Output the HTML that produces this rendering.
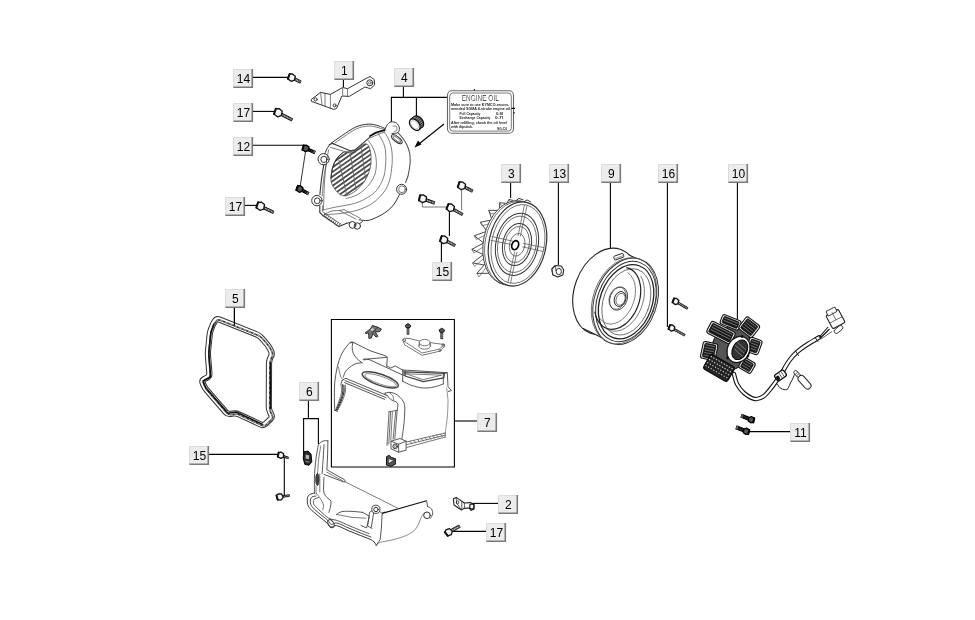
<!DOCTYPE html>
<html><head><meta charset="utf-8">
<style>
html,body{margin:0;padding:0;background:#fff;}
body{width:975px;height:620px;overflow:hidden;font-family:"Liberation Sans",sans-serif;}
svg{display:block;filter:blur(0.3px)}
.lb text{font-family:"Liberation Sans",sans-serif;font-size:12px;fill:#000;text-anchor:middle}
.ld{stroke:#000;stroke-width:1.1;fill:none}
.lg{stroke:#777;stroke-width:1;fill:none}
.p{stroke:#333;stroke-width:1;fill:none;stroke-linejoin:round;stroke-linecap:round}
.pt{stroke:#505050;stroke-width:0.75;fill:none;stroke-linejoin:round;stroke-linecap:round}
.pk{stroke:#111;stroke-width:1.2;fill:none;stroke-linejoin:round;stroke-linecap:round}
</style></head><body>
<svg width="975" height="620" viewBox="0 0 975 620">
<defs>
<g id="L"><rect x="0" y="0" width="20" height="19" fill="#ececec"/><path stroke="#dcdcdc" stroke-width="1" fill="none" d="M0.5 19V0.5H20"/><path stroke="#7a7a7a" stroke-width="1.6" fill="none" d="M0.5 18.3H19.3V0"/></g>
</defs>
<rect width="975" height="620" fill="#fff"/>

<!-- LEADERS -->
<g class="ld" id="leaders">
<path d="M253 77.4H289"/>
<path d="M253 111.4H274"/>
<path d="M253 145.2H303"/>
<path d="M245 205.4H256"/>
<path d="M343.4 80V87"/>
<path d="M403.4 87V97.4M391.4 122V97.4H447.4M416.4 97.4V117"/>
<path d="M474.4 89V92"/>
<path d="M444 124L417 145.5"/>
<path d="M510.6 183V198"/>
<path d="M558.4 183V265"/>
<path d="M610.4 183V249.4"/>
<path d="M667.4 183V327"/>
<path d="M737.4 183V319"/>
<path d="M441.4 242V262"/>
<path d="M449.4 211V236"/>
<path d="M234.4 308V325"/>
<path d="M308.4 401V418.6M303.6 454V418.6H318.4V444"/>
<path d="M454.4 421H477"/>
<path d="M209 454.4H278"/>
<path d="M284.3 456V496"/>
<path d="M748 431.6H790"/>
<path d="M473 503.4H498"/>
<path d="M452.4 531.4H486"/>
<path d="M331.4 319.5H454.4V467H331.4Z"/>
</g>
<path d="M414.5 147.5L421.5 144.5L418 140.5Z" fill="#000"/>
<g class="lg">
<path d="M422.4 203V207H447"/>
<path d="M461.6 189V210"/>
</g>
<path class="ld" style="stroke-width:0.8" d="M305.6 151L300.4 185"/>

<!-- PARTS -->
<g id="parts">
<g transform="translate(291,77.2) rotate(26.8)"><rect x="1.8" y="-1.2" width="8.8" height="2.4" fill="#ddd" stroke="#111" stroke-width="0.9"/><path d="M4.6 -1.2L5.2 1.2M6.3 -1.2L6.9 1.2M8.0 -1.2L8.6 1.2M9.7 -1.2L10.3 1.2" stroke="#111" stroke-width="0.6" fill="none"/><rect x="9.0" y="-1.2" width="1.6" height="2.4" fill="#666"/><g transform="translate(0.9,0)"><path d="M-3.6 -2.2L-1.1 -3.6L2.5 -2.9L3.6 1.1L1.1 3.6L-2.9 2.9Z" fill="#f4f4f4" stroke="#111" stroke-width="1.3" stroke-linejoin="round"/><path d="M-3.6 -2.2L-2.9 2.9" stroke="#111" stroke-width="2" stroke-linecap="round"/></g></g>
<g transform="translate(277.5,112.3) rotate(27.3)"><rect x="2.0" y="-1.2" width="14.3" height="2.4" fill="#ddd" stroke="#111" stroke-width="0.9"/><path d="M5.0 -1.2L5.6 1.2M6.7 -1.2L7.3 1.2M8.4 -1.2L9.0 1.2M10.1 -1.2L10.7 1.2M11.8 -1.2L12.4 1.2M13.5 -1.2L14.1 1.2M15.2 -1.2L15.8 1.2" stroke="#111" stroke-width="0.6" fill="none"/><rect x="14.7" y="-1.2" width="1.6" height="2.4" fill="#666"/><g transform="translate(0.9,0)"><path d="M-4.0 -2.4L-1.2 -4.0L2.8 -3.2L4.0 1.2L1.2 4.0L-3.2 3.2Z" fill="#f4f4f4" stroke="#111" stroke-width="1.3" stroke-linejoin="round"/><path d="M-4.0 -2.4L-3.2 3.2" stroke="#111" stroke-width="2" stroke-linecap="round"/></g></g>
<g transform="translate(305,148) rotate(24.2)"><rect x="1.6" y="-1.3" width="9.1" height="2.6" fill="#333" stroke="#000" stroke-width="0.9"/><path d="M4.2 -1.3L4.8 1.3M5.9 -1.3L6.5 1.3M7.6 -1.3L8.2 1.3M9.3 -1.3L9.9 1.3" stroke="#000" stroke-width="0.6" fill="none"/><rect x="9.1" y="-1.3" width="1.6" height="2.6" fill="#666"/><g transform="translate(0.9,0)"><path d="M-3.2 -1.9L-1.0 -3.2L2.2 -2.6L3.2 1.0L1.0 3.2L-2.6 2.6Z" fill="#555" stroke="#000" stroke-width="1.3" stroke-linejoin="round"/><path d="M-3.2 -1.9L-2.6 2.6" stroke="#000" stroke-width="2" stroke-linecap="round"/></g></g>
<g transform="translate(299,188.6) rotate(28.0)"><rect x="1.6" y="-1.3" width="9.0" height="2.6" fill="#333" stroke="#000" stroke-width="0.9"/><path d="M4.2 -1.3L4.8 1.3M5.9 -1.3L6.5 1.3M7.6 -1.3L8.2 1.3M9.3 -1.3L9.9 1.3" stroke="#000" stroke-width="0.6" fill="none"/><rect x="9.0" y="-1.3" width="1.6" height="2.6" fill="#666"/><g transform="translate(0.9,0)"><path d="M-3.2 -1.9L-1.0 -3.2L2.2 -2.6L3.2 1.0L1.0 3.2L-2.6 2.6Z" fill="#555" stroke="#000" stroke-width="1.3" stroke-linejoin="round"/><path d="M-3.2 -1.9L-2.6 2.6" stroke="#000" stroke-width="2" stroke-linecap="round"/></g></g>
<g transform="translate(259.8,205.8) rotate(25.9)"><rect x="2.0" y="-1.2" width="13.1" height="2.4" fill="#ddd" stroke="#111" stroke-width="0.9"/><path d="M5.0 -1.2L5.6 1.2M6.7 -1.2L7.3 1.2M8.4 -1.2L9.0 1.2M10.1 -1.2L10.7 1.2M11.8 -1.2L12.4 1.2M13.5 -1.2L14.1 1.2" stroke="#111" stroke-width="0.6" fill="none"/><rect x="13.5" y="-1.2" width="1.6" height="2.4" fill="#666"/><g transform="translate(0.9,0)"><path d="M-4.0 -2.4L-1.2 -4.0L2.8 -3.2L4.0 1.2L1.2 4.0L-3.2 3.2Z" fill="#f4f4f4" stroke="#111" stroke-width="1.3" stroke-linejoin="round"/><path d="M-4.0 -2.4L-3.2 3.2" stroke="#111" stroke-width="2" stroke-linecap="round"/></g></g>
<g transform="translate(422,198.4) rotate(20.4)"><rect x="1.9" y="-1.2" width="11.3" height="2.4" fill="#ddd" stroke="#111" stroke-width="0.9"/><path d="M4.8 -1.2L5.4 1.2M6.5 -1.2L7.1 1.2M8.2 -1.2L8.8 1.2M9.9 -1.2L10.5 1.2M11.6 -1.2L12.2 1.2" stroke="#111" stroke-width="0.6" fill="none"/><rect x="11.6" y="-1.2" width="1.6" height="2.4" fill="#666"/><g transform="translate(0.9,0)"><path d="M-3.8 -2.3L-1.1 -3.8L2.7 -3.0L3.8 1.1L1.1 3.8L-3.0 3.0Z" fill="#f4f4f4" stroke="#111" stroke-width="1.3" stroke-linejoin="round"/><path d="M-3.8 -2.3L-3.0 3.0" stroke="#111" stroke-width="2" stroke-linecap="round"/></g></g>
<g transform="translate(461,185.4) rotate(26.2)"><rect x="1.9" y="-1.2" width="10.8" height="2.4" fill="#ddd" stroke="#111" stroke-width="0.9"/><path d="M4.8 -1.2L5.4 1.2M6.5 -1.2L7.1 1.2M8.2 -1.2L8.8 1.2M9.9 -1.2L10.5 1.2M11.6 -1.2L12.2 1.2" stroke="#111" stroke-width="0.6" fill="none"/><rect x="11.1" y="-1.2" width="1.6" height="2.4" fill="#666"/><g transform="translate(0.9,0)"><path d="M-3.8 -2.3L-1.1 -3.8L2.7 -3.0L3.8 1.1L1.1 3.8L-3.0 3.0Z" fill="#f4f4f4" stroke="#111" stroke-width="1.3" stroke-linejoin="round"/><path d="M-3.8 -2.3L-3.0 3.0" stroke="#111" stroke-width="2" stroke-linecap="round"/></g></g>
<g transform="translate(449.8,207.4) rotate(29.1)"><rect x="1.9" y="-1.2" width="12.5" height="2.4" fill="#ddd" stroke="#111" stroke-width="0.9"/><path d="M4.8 -1.2L5.4 1.2M6.5 -1.2L7.1 1.2M8.2 -1.2L8.8 1.2M9.9 -1.2L10.5 1.2M11.6 -1.2L12.2 1.2M13.3 -1.2L13.9 1.2" stroke="#111" stroke-width="0.6" fill="none"/><rect x="12.8" y="-1.2" width="1.6" height="2.4" fill="#666"/><g transform="translate(0.9,0)"><path d="M-3.8 -2.3L-1.1 -3.8L2.7 -3.0L3.8 1.1L1.1 3.8L-3.0 3.0Z" fill="#f4f4f4" stroke="#111" stroke-width="1.3" stroke-linejoin="round"/><path d="M-3.8 -2.3L-3.0 3.0" stroke="#111" stroke-width="2" stroke-linecap="round"/></g></g>
<g transform="translate(443.2,239.4) rotate(27.3)"><rect x="1.9" y="-1.2" width="11.2" height="2.4" fill="#ddd" stroke="#111" stroke-width="0.9"/><path d="M4.8 -1.2L5.4 1.2M6.5 -1.2L7.1 1.2M8.2 -1.2L8.8 1.2M9.9 -1.2L10.5 1.2M11.6 -1.2L12.2 1.2" stroke="#111" stroke-width="0.6" fill="none"/><rect x="11.5" y="-1.2" width="1.6" height="2.4" fill="#666"/><g transform="translate(0.9,0)"><path d="M-3.8 -2.3L-1.1 -3.8L2.7 -3.0L3.8 1.1L1.1 3.8L-3.0 3.0Z" fill="#f4f4f4" stroke="#111" stroke-width="1.3" stroke-linejoin="round"/><path d="M-3.8 -2.3L-3.0 3.0" stroke="#111" stroke-width="2" stroke-linecap="round"/></g></g>
<g transform="translate(675,301) rotate(30.8)"><rect x="1.5" y="-0.9" width="12.9" height="1.8" fill="#ddd" stroke="#111" stroke-width="0.9"/><path d="M4.0 -0.9L4.6 0.9M5.7 -0.9L6.3 0.9M7.4 -0.9L8.0 0.9M9.1 -0.9L9.7 0.9M10.8 -0.9L11.4 0.9M12.5 -0.9L13.1 0.9" stroke="#111" stroke-width="0.6" fill="none"/><rect x="12.8" y="-0.9" width="1.6" height="1.8" fill="#666"/><g transform="translate(0.9,0)"><path d="M-3 -1.8L-0.9 -3L2.1 -2.4L3 0.9L0.9 3L-2.4 2.4Z" fill="#f4f4f4" stroke="#111" stroke-width="1.3" stroke-linejoin="round"/><path d="M-3 -1.8L-2.4 2.4" stroke="#111" stroke-width="2" stroke-linecap="round"/></g></g>
<g transform="translate(671,327.6) rotate(29.2)"><rect x="1.5" y="-0.9" width="14.1" height="1.8" fill="#ddd" stroke="#111" stroke-width="0.9"/><path d="M4.0 -0.9L4.6 0.9M5.7 -0.9L6.3 0.9M7.4 -0.9L8.0 0.9M9.1 -0.9L9.7 0.9M10.8 -0.9L11.4 0.9M12.5 -0.9L13.1 0.9M14.2 -0.9L14.8 0.9" stroke="#111" stroke-width="0.6" fill="none"/><rect x="14.0" y="-0.9" width="1.6" height="1.8" fill="#666"/><g transform="translate(0.9,0)"><path d="M-3 -1.8L-0.9 -3L2.1 -2.4L3 0.9L0.9 3L-2.4 2.4Z" fill="#f4f4f4" stroke="#111" stroke-width="1.3" stroke-linejoin="round"/><path d="M-3 -1.8L-2.4 2.4" stroke="#111" stroke-width="2" stroke-linecap="round"/></g></g>
<g transform="translate(752,420) rotate(-158.4)"><rect x="1.5" y="-1.6" width="9.9" height="3.2" fill="#333" stroke="#000" stroke-width="0.9"/><path d="M4.0 -1.6L4.6 1.6M5.7 -1.6L6.3 1.6M7.4 -1.6L8.0 1.6M9.1 -1.6L9.7 1.6" stroke="#000" stroke-width="0.6" fill="none"/><rect x="9.8" y="-1.6" width="1.6" height="3.2" fill="#666"/><g transform="translate(0.9,0)"><path d="M-3 -1.8L-0.9 -3L2.1 -2.4L3 0.9L0.9 3L-2.4 2.4Z" fill="#555" stroke="#000" stroke-width="1.3" stroke-linejoin="round"/><path d="M-3 -1.8L-2.4 2.4" stroke="#000" stroke-width="2" stroke-linecap="round"/></g></g>
<g transform="translate(747,431.6) rotate(-158.4)"><rect x="1.5" y="-1.6" width="9.9" height="3.2" fill="#333" stroke="#000" stroke-width="0.9"/><path d="M4.0 -1.6L4.6 1.6M5.7 -1.6L6.3 1.6M7.4 -1.6L8.0 1.6M9.1 -1.6L9.7 1.6" stroke="#000" stroke-width="0.6" fill="none"/><rect x="9.8" y="-1.6" width="1.6" height="3.2" fill="#666"/><g transform="translate(0.9,0)"><path d="M-3 -1.8L-0.9 -3L2.1 -2.4L3 0.9L0.9 3L-2.4 2.4Z" fill="#555" stroke="#000" stroke-width="1.3" stroke-linejoin="round"/><path d="M-3 -1.8L-2.4 2.4" stroke="#000" stroke-width="2" stroke-linecap="round"/></g></g>
<g transform="translate(448,532.6) rotate(-29.3)"><rect x="1.7" y="-1.2" width="11.4" height="2.4" fill="#ddd" stroke="#111" stroke-width="0.9"/><path d="M4.4 -1.2L5.0 1.2M6.1 -1.2L6.7 1.2M7.8 -1.2L8.4 1.2M9.5 -1.2L10.1 1.2M11.2 -1.2L11.8 1.2" stroke="#111" stroke-width="0.6" fill="none"/><rect x="11.5" y="-1.2" width="1.6" height="2.4" fill="#666"/><g transform="translate(0.9,0)"><path d="M-3.4 -2.0L-1.0 -3.4L2.4 -2.7L3.4 1.0L1.0 3.4L-2.7 2.7Z" fill="#f4f4f4" stroke="#111" stroke-width="1.3" stroke-linejoin="round"/><path d="M-3.4 -2.0L-2.7 2.7" stroke="#111" stroke-width="2" stroke-linecap="round"/></g></g>
<g transform="translate(280,455) rotate(19.7)"><rect x="1.5" y="-0.8" width="7.4" height="1.6" fill="#ddd" stroke="#111" stroke-width="0.9"/><path d="M4.0 -0.8L4.6 0.8M5.7 -0.8L6.3 0.8M7.4 -0.8L8.0 0.8" stroke="#111" stroke-width="0.6" fill="none"/><rect x="7.3" y="-0.8" width="1.6" height="1.6" fill="#666"/><g transform="translate(0.9,0)"><path d="M-3 -1.8L-0.9 -3L2.1 -2.4L3 0.9L0.9 3L-2.4 2.4Z" fill="#f4f4f4" stroke="#111" stroke-width="1.3" stroke-linejoin="round"/><path d="M-3 -1.8L-2.4 2.4" stroke="#111" stroke-width="2" stroke-linecap="round"/></g></g>
<g transform="translate(279,497) rotate(-8.2)"><rect x="1.6" y="-0.8" width="8.9" height="1.6" fill="#ddd" stroke="#111" stroke-width="0.9"/><path d="M4.2 -0.8L4.8 0.8M5.9 -0.8L6.5 0.8M7.6 -0.8L8.2 0.8M9.3 -0.8L9.9 0.8" stroke="#111" stroke-width="0.6" fill="none"/><rect x="8.9" y="-0.8" width="1.6" height="1.6" fill="#666"/><g transform="translate(0.9,0)"><path d="M-3.2 -1.9L-1.0 -3.2L2.2 -2.6L3.2 1.0L1.0 3.2L-2.6 2.6Z" fill="#f4f4f4" stroke="#111" stroke-width="1.3" stroke-linejoin="round"/><path d="M-3.2 -1.9L-2.6 2.6" stroke="#111" stroke-width="2" stroke-linecap="round"/></g></g>
<path class="p" d="M311.5 99.3L320.5 92.4L330.4 94.4L342.7 87.5L347.6 88.7L366.0 78.5L370.0 76.5L374.2 79.6L374.6 85.0L370.6 88.7L364.9 87.0L349.3 96.4L341.9 96.0L336.5 108.5L333.5 109.4L316.0 103.0L311.8 101.5Z" />
<path class="pt" d="M325 93.3V105.8M330.4 94.4V107.5M342.7 87.5V95M347.6 88.7V95.6M320.5 92.4L322 104.5" />
<circle class="p" cx="315.6" cy="99.4" r="1.6"/><circle class="p" cx="334.6" cy="105.4" r="1.5"/><circle class="p" cx="369.8" cy="82.8" r="3"/><circle class="pt" cx="369.8" cy="82.8" r="1.3"/>
<rect x="447.5" y="90.8" width="66" height="42.5" rx="4.5" fill="#fff" stroke="#666" stroke-width="1.1"/>
<rect x="449.7" y="93" width="61.6" height="38.1" rx="3.2" fill="none" stroke="#444" stroke-width="0.7"/>
<text x="480.3" y="101" text-anchor="middle" font-family="Liberation Sans, sans-serif" font-size="9.4" fill="#222" textLength="37" lengthAdjust="spacingAndGlyphs" style="font-weight:normal" stroke="#fff" stroke-width="0.15">ENGINE OIL</text>
<text x="451" y="105.6" font-family="Liberation Sans, sans-serif" font-size="4.2" font-weight="bold" fill="#222" textLength="58" lengthAdjust="spacingAndGlyphs">Make sure to use KYMCO-recom-</text>
<text x="451" y="110" font-family="Liberation Sans, sans-serif" font-size="4.2" font-weight="bold" fill="#222" textLength="60" lengthAdjust="spacingAndGlyphs">mended SGMA 4-stroke engine oil.</text>
<text x="459.5" y="115" font-family="Liberation Sans, sans-serif" font-size="4.2" font-weight="bold" fill="#222" textLength="21" lengthAdjust="spacingAndGlyphs">Full Capacity</text>
<text x="496" y="115" font-family="Liberation Sans, sans-serif" font-size="4.2" font-weight="bold" fill="#222" textLength="7" lengthAdjust="spacingAndGlyphs">0.8l</text>
<text x="459.5" y="119.2" font-family="Liberation Sans, sans-serif" font-size="4.2" font-weight="bold" fill="#222" textLength="31" lengthAdjust="spacingAndGlyphs">Exchange Capacity</text>
<text x="495" y="119.2" font-family="Liberation Sans, sans-serif" font-size="4.2" font-weight="bold" fill="#222" textLength="8" lengthAdjust="spacingAndGlyphs">0.7l</text>
<text x="451" y="124" font-family="Liberation Sans, sans-serif" font-size="4.2" font-weight="bold" fill="#222" textLength="56" lengthAdjust="spacingAndGlyphs">After refilling, check the oil level</text>
<text x="451" y="128.2" font-family="Liberation Sans, sans-serif" font-size="4.2" font-weight="bold" fill="#222" textLength="22" lengthAdjust="spacingAndGlyphs">with dipstick.</text>
<text x="497" y="129.6" font-family="Liberation Sans, sans-serif" font-size="4.2" font-weight="bold" fill="#222" textLength="10" lengthAdjust="spacingAndGlyphs">SG-C6</text>
<path class="ld" d="M511.5 108.4H515M514 113.5V112" />
<g transform="translate(414.8,124.6) rotate(50)"><ellipse cx="0" cy="-4.6" rx="6.6" ry="4.3" fill="#888" stroke="#111" stroke-width="1.2"/><rect x="-6.6" y="-4.6" width="13.2" height="4.6" fill="#aaa" stroke="none"/><path d="M-6.6 0V-4.6M6.6 0V-4.6" stroke="#111" stroke-width="1.2" fill="none"/><path d="M-4.5 -8V-3M-2.5 -8.6V-4M-0.5 -9V-4.4M1.5 -9V-4.4M3.5 -8.4V-4M5.2 -7.4V-3" stroke="#111" stroke-width="0.8"/><ellipse cx="0" cy="0" rx="6.6" ry="4.3" fill="#fff" stroke="#111" stroke-width="1.3"/><ellipse cx="0" cy="0.3" rx="4.8" ry="2.9" fill="none" stroke="#999" stroke-width="0.5"/></g>
<path class="p" d="M385.2 128.6C384.1 128.1 381.2 126.5 378.4 125.8C375.6 125.0 372.1 123.9 368.3 124.1C364.5 124.3 360.1 125.1 355.8 127.0C351.5 128.9 346.4 132.7 342.3 135.4C338.2 138.1 332.9 142.0 331.0 143.3" />
<path class="pt" d="M386.0 130.0C384.7 129.6 380.9 128.3 378.0 127.6C375.1 126.9 371.9 125.8 368.3 126.0C364.7 126.2 360.6 127.0 356.5 128.8C352.4 130.6 347.3 134.4 343.4 137.0C339.5 139.6 334.7 143.2 333.0 144.5" />
<path class="p" d="M385.2 128.6C385.6 127.9 386.6 125.6 387.5 124.5C388.4 123.4 389.4 122.2 390.9 121.9C392.4 121.7 395.1 122.0 396.5 123.0C397.9 124.0 399.2 126.5 399.4 128.1C399.6 129.7 398.9 131.7 397.7 132.6C396.5 133.5 392.9 133.3 392.0 133.4" />
<path class="pt" d="M393.0 126.5C393.5 126.4 395.3 125.4 396.0 126.0C396.7 126.6 397.2 129.1 397.0 130.0C396.8 130.9 394.9 131.2 394.5 131.5" />
<path class="p" d="M397.7 132.6C398.6 133.6 401.5 136.4 403.0 138.5C404.5 140.6 405.8 142.6 406.9 145.0C408.0 147.4 409.1 150.3 409.6 153.0C410.2 155.7 410.2 158.5 410.2 161.0C410.2 163.5 409.9 165.5 409.5 168.0C409.1 170.5 408.6 173.6 408.0 176.0C407.4 178.4 406.0 181.4 405.6 182.5" style="stroke-width:1.1;stroke:#555"/>
<circle cx="401.6" cy="189.3" r="5" class="p" fill="#fff"/><circle cx="402" cy="189.3" r="3.4" class="pt"/>
<path class="p" d="M399.5 194.5C398.8 195.8 396.9 199.8 395.5 202.0C394.1 204.2 392.7 206.1 390.9 207.9C389.1 209.7 386.8 211.5 384.5 213.0C382.2 214.5 380.0 215.8 377.3 217.0C374.6 218.2 371.3 219.9 368.3 220.4C365.3 220.9 360.7 219.9 359.2 219.8" />
<ellipse class="p" cx="396.8" cy="139.2" rx="6.4" ry="2.6" transform="rotate(38 396.8 139.2)"/>
<ellipse class="pt" cx="396.8" cy="139.2" rx="4.8" ry="1.4" transform="rotate(38 396.8 139.2)"/>
<path class="pk" d="M370 136L376 132.6L384.4 130.2" style="stroke-width:1.8"/>
<path class="pt" d="M370.6 137.6L384.6 131.8" />
<path class="pt" d="M384.1 131.5C384.8 132.8 387.3 136.4 388.5 139.0C389.7 141.6 390.6 144.3 391.2 147.0C391.8 149.7 392.1 152.2 392.2 155.2C392.3 158.2 392.4 160.9 392.0 165.0C391.6 169.1 391.0 175.5 389.7 180.0C388.4 184.5 386.8 188.2 384.0 192.0C381.2 195.8 377.1 200.0 372.8 203.0C368.5 206.0 363.5 208.2 358.0 210.0C352.5 211.8 345.7 212.7 340.0 213.5C334.3 214.3 326.7 214.5 324.0 214.7" style="stroke:#555"/>
<path class="pt" d="M377.3 132.6C378.1 133.8 380.8 137.6 382.0 140.0C383.2 142.4 384.2 144.5 384.8 147.0C385.4 149.5 385.7 152.2 385.8 155.2C385.9 158.2 385.9 161.5 385.6 165.0C385.3 168.5 385.1 172.3 384.0 176.0C382.9 179.7 380.9 184.0 379.0 187.0C377.1 190.0 375.8 191.7 372.8 194.0C369.8 196.3 364.8 199.2 361.0 201.0C357.2 202.8 354.2 203.5 350.0 204.5C345.8 205.5 340.5 206.1 336.0 207.0C331.5 207.9 325.2 209.5 323.0 210.0" style="stroke:#555"/>
<path class="pt" d="M368.3 140.5C369.0 141.6 371.3 144.6 372.5 147.0C373.7 149.4 375.0 152.2 375.6 155.2C376.2 158.2 376.5 161.9 376.4 165.0C376.3 168.1 375.9 171.2 375.0 174.0C374.1 176.8 372.8 179.3 371.0 182.0C369.2 184.7 366.5 187.8 364.0 190.0C361.5 192.2 359.0 194.1 356.0 195.5C353.0 196.9 347.7 198.0 346.0 198.5" style="stroke:#555"/>
<path class="p" d="M329.3 145L332.1 143.3L350.2 150.7L354.7 150.1L370 137.1" style="stroke-width:1.1"/>
<path class="pt" d="M330.5 147.4L349.8 153L355.4 152.2" />
<path class="p" d="M329.3 145.0C328.8 145.8 327.1 148.5 326.4 150.0C325.6 151.5 325.1 153.3 324.8 154.0" />
<path class="p" d="M323.8 164.5C323.4 167.1 322.0 175.0 321.4 180.0C320.8 185.0 320.1 192.0 319.9 194.4" style="stroke-width:1.1"/>
<path class="pt" d="M326.0 164.5C325.6 167.1 324.2 174.8 323.6 180.0C323.0 185.2 322.4 193.3 322.2 196.0" />
<path class="pt" d="M328.5 150.0C328.1 152.7 326.7 160.3 326.0 166.0C325.3 171.7 324.8 176.7 324.4 184.0C324.0 191.3 323.6 205.7 323.4 210.0" />
<path class="p" d="M319.8 205.8V212.5L322.5 215.2L338.9 226.6L346.8 223.2" style="stroke-width:1.1"/>
<path class="pt" d="M322.4 206V211.6L325 213.6" />
<path class="p" d="M323.5 216.2l1.7 -2.6M325.4 217.5l1.7 -2.6M327.2 218.8l1.7 -2.6M329.1 220.0l1.7 -2.6M330.9 221.3l1.7 -2.6M332.8 222.6l1.7 -2.6M334.6 223.9l1.7 -2.6M336.4 225.2l1.7 -2.6M338.3 226.4l1.7 -2.6" style="stroke-width:0.7;stroke:#333"/>
<path class="pt" d="M325 213.4L341 224.2" />
<circle cx="323.6" cy="159.2" r="5.6" class="p" fill="#fff"/><circle cx="323.9" cy="159.4" r="3.1" class="p"/>
<circle cx="316.9" cy="200.6" r="5.2" class="p" fill="#fff"/><circle cx="317.3" cy="200.8" r="2.9" class="p"/>
<circle cx="352.5" cy="224.9" r="3.4" class="p"/><circle cx="357.3" cy="226" r="3.2" class="p"/>
<path class="p" d="M346.8 223.2L349.3 222.6M359.6 223.6L362.4 221.6" />
<path class="pt" d="M339.5 210.5L356 219.2M344 209.6L360.5 218.4M339.5 210.5L344 209.6" />
<path class="pt" d="M324.5 214.2C325.8 213.7 329.5 211.6 332.0 211.0C334.5 210.4 338.2 210.6 339.5 210.5" />
<clipPath id="gc"><path d="M331.0 178.0C331.1 175.2 331.6 171.2 332.5 168.0C333.4 164.8 334.8 161.6 336.5 159.0C338.2 156.4 340.6 153.8 343.0 152.6C345.4 151.4 348.9 152.0 351.0 151.6C353.1 151.2 353.7 151.5 355.5 150.4C357.3 149.3 360.0 146.0 362.0 145.0C364.0 144.0 366.1 143.2 367.5 144.4C368.9 145.6 369.9 149.1 370.5 152.0C371.1 154.9 371.2 158.7 371.0 162.0C370.8 165.3 370.2 168.7 369.0 172.0C367.8 175.3 366.2 178.9 364.0 182.0C361.8 185.1 358.8 188.2 356.0 190.5C353.2 192.8 349.5 194.8 347.0 195.5C344.5 196.2 342.9 195.9 341.0 195.0C339.1 194.1 337.0 191.8 335.5 190.0C334.0 188.2 332.8 186.5 332.0 184.5C331.2 182.5 330.9 180.8 331.0 178.0Z"/></clipPath>
<g clip-path="url(#gc)"><path d="M325 158.8L380 120.3M325 163.4L380 124.9M325 168.0L380 129.5M325 172.6L380 134.1M325 177.2L380 138.7M325 181.8L380 143.3M325 186.4L380 147.9M325 191.0L380 152.5M325 195.6L380 157.1M325 200.2L380 161.7M325 204.8L380 166.3M325 209.4L380 170.9M325 214.0L380 175.5M325 218.6L380 180.1M325 223.2L380 184.7M325 227.8L380 189.3M325 232.4L380 193.9M325 237.0L380 198.5M325 241.6L380 203.1M325 246.2L380 207.7M325 250.8L380 212.3M325 255.4L380 216.9M325 260.0L380 221.5M325 264.6L380 226.1" stroke="#4a4a4a" stroke-width="1.8" fill="none"/><path d="M350 152L357 196M339 160L347 197M361 146L366 183" stroke="#666" stroke-width="0.9" fill="none"/></g>
<path class="pk" d="M331.0 178.0C331.2 176.3 331.6 171.2 332.5 168.0C333.4 164.8 334.8 161.6 336.5 159.0C338.2 156.4 341.9 153.7 343.0 152.6" style="stroke-width:1"/>
<path class="pt" d="M331.0 178.0C331.1 175.2 331.6 171.2 332.5 168.0C333.4 164.8 334.8 161.6 336.5 159.0C338.2 156.4 340.6 153.8 343.0 152.6C345.4 151.4 348.9 152.0 351.0 151.6C353.1 151.2 353.7 151.5 355.5 150.4C357.3 149.3 360.0 146.0 362.0 145.0C364.0 144.0 366.1 143.2 367.5 144.4C368.9 145.6 369.9 149.1 370.5 152.0C371.1 154.9 371.2 158.7 371.0 162.0C370.8 165.3 370.2 168.7 369.0 172.0C367.8 175.3 366.2 178.9 364.0 182.0C361.8 185.1 358.8 188.2 356.0 190.5C353.2 192.8 349.5 194.8 347.0 195.5C344.5 196.2 342.9 195.9 341.0 195.0C339.1 194.1 337.0 191.8 335.5 190.0C334.0 188.2 332.8 186.5 332.0 184.5C331.2 182.5 330.9 180.8 331.0 178.0Z" style="stroke:#444"/>
<path d="M513.8 200.8L509.0 199.3L506.7 203.6" fill="#fff" stroke="#333" stroke-width="0.9" stroke-linejoin="round"/>
<path d="M509.0 199.3L511.0 202.9L515.8 203.3" fill="none" stroke="#555" stroke-width="0.7"/>
<path d="M506.2 203.4L499.7 202.7L499.5 209.0" fill="#fff" stroke="#333" stroke-width="0.9" stroke-linejoin="round"/>
<path d="M499.7 202.7L501.7 206.3L508.2 205.9" fill="none" stroke="#555" stroke-width="0.7"/>
<path d="M497.2 210.4L488.7 210.3L491.8 219.1" fill="#fff" stroke="#333" stroke-width="0.9" stroke-linejoin="round"/>
<path d="M488.7 210.3L490.7 213.9L499.2 212.9" fill="none" stroke="#555" stroke-width="0.7"/>
<path d="M490.1 220.3L480.3 222.2L486.6 230.9" fill="#fff" stroke="#333" stroke-width="0.9" stroke-linejoin="round"/>
<path d="M480.3 222.2L482.3 225.8L492.1 222.8" fill="none" stroke="#555" stroke-width="0.7"/>
<path d="M485.4 231.7L474.3 235.8L484.1 243.3" fill="#fff" stroke="#333" stroke-width="0.9" stroke-linejoin="round"/>
<path d="M474.3 235.8L476.3 239.4L487.4 234.2" fill="none" stroke="#555" stroke-width="0.7"/>
<path d="M483.1 243.3L471.8 249.3L484.0 254.8" fill="#fff" stroke="#333" stroke-width="0.9" stroke-linejoin="round"/>
<path d="M471.8 249.3L473.8 252.9L485.1 245.8" fill="none" stroke="#555" stroke-width="0.7"/>
<path d="M483.0 254.8L472.6 262.9L486.2 265.4" fill="#fff" stroke="#333" stroke-width="0.9" stroke-linejoin="round"/>
<path d="M472.6 262.9L474.6 266.5L485.0 257.3" fill="none" stroke="#555" stroke-width="0.7"/>
<path d="M484.8 264.2L476.9 273.4L489.8 273.3" fill="#fff" stroke="#333" stroke-width="0.9" stroke-linejoin="round"/>
<path d="M476.9 273.4L478.9 277.0L486.8 266.7" fill="none" stroke="#555" stroke-width="0.7"/>
<ellipse cx="512.0" cy="242.6" rx="28.5" ry="42.5" transform="rotate(12.0 512.0 242.6)" fill="#fff" stroke="#444" stroke-width="0.9"/>
<path d="M525.5 202.7L531.0 204.1L504.0 283.9L498.5 282.5Z" fill="#fff" stroke="none"/>
<path d="M525.5 202.7L531.0 204.1M504.0 283.9L498.5 282.5" fill="none" stroke="#444" stroke-width="0.9"/>
<ellipse class="pt" cx="513.75" cy="243.3" rx="28.5" ry="42.5" transform="rotate(12.0 513.75 243.3)" />
<ellipse cx="517.5" cy="244.0" rx="28.5" ry="42.5" transform="rotate(12.0 517.5 244.0)" fill="#fff" stroke="#333" stroke-width="1.2"/>
<ellipse class="pt" cx="518.0" cy="244.0" rx="26.3" ry="39.9" transform="rotate(12.0 518.0 244.0)" style="stroke:#555"/>
<ellipse class="p" cx="517.0" cy="244.3" rx="21.09" ry="31.45" transform="rotate(12.0 517.0 244.3)" />
<ellipse class="pt" cx="517.0" cy="244.3" rx="19.095000000000002" ry="28.475" transform="rotate(12.0 517.0 244.3)" />
<ellipse class="p" cx="517.0" cy="244.5" rx="14.25" ry="21.25" transform="rotate(12.0 517.0 244.5)" />
<ellipse class="pt" cx="517.0" cy="244.5" rx="12.254999999999999" ry="18.275" transform="rotate(12.0 517.0 244.5)" />
<ellipse class="pt" cx="517.2" cy="244.8" rx="7.695" ry="11.475000000000001" transform="rotate(12.0 517.2 244.8)" />
<path class="pt" d="M518.1 235.6L524.4 205.1" style="stroke:#555"/>
<path class="pt" d="M520.4 236.1L527.0 205.7" style="stroke:#555"/>
<path class="pt" d="M523.3 243.4L543.8 247.6" style="stroke:#555"/>
<path class="pt" d="M522.6 246.9L543.0 251.4" style="stroke:#555"/>
<path class="pt" d="M516.9 252.4L510.6 282.9" style="stroke:#555"/>
<path class="pt" d="M514.6 251.9L508.0 282.3" style="stroke:#555"/>
<path class="pt" d="M511.7 244.6L491.2 240.4" style="stroke:#555"/>
<path class="pt" d="M512.4 241.1L492.0 236.6" style="stroke:#555"/>
<ellipse cx="515.2" cy="245.2" rx="3.3" ry="4.6" transform="rotate(20 515.2 245.2)" fill="#fff" stroke="#000" stroke-width="1.7"/>
<path class="p" d="M516 200.6l3 -2.2l4 1.4M524.5 201.5l2.5 -1.6l3.5 2" />
<ellipse cx="605.6" cy="291.4" rx="31.0" ry="44.5" transform="rotate(20.0 605.6 291.4)" fill="#fff" stroke="#222" stroke-width="1.1"/>
<path d="M629.1 254.9L649.1 264.8L602.1 337.8L582.1 327.9Z" fill="#fff" stroke="none"/>
<path d="M629.1 254.9L649.1 264.8M602.1 337.8L582.1 327.9" fill="none" stroke="#222" stroke-width="1.1"/>
<ellipse cx="625.6" cy="301.3" rx="31.0" ry="44.5" transform="rotate(20.0 625.6 301.3)" fill="#fff" stroke="#333" stroke-width="1"/>
<ellipse class="pt" cx="624.1" cy="300.8" rx="31.0" ry="44.5" transform="rotate(20.0 624.1 300.8)" />
<ellipse class="p" cx="625.9" cy="301.5" rx="28.52" ry="41.385000000000005" transform="rotate(20.0 625.9 301.5)" />
<ellipse class="p" cx="626.1" cy="301.7" rx="26.04" ry="38.269999999999996" transform="rotate(20.0 626.1 301.7)" style="stroke:#222;stroke-width:1.3"/>
<ellipse class="pt" cx="626.4" cy="301.90000000000003" rx="22.94" ry="34.265" transform="rotate(20.0 626.4 301.90000000000003)" />
<path class="p" d="M626.7 267.7C627.3 267.9 629.1 268.4 630.2 268.9C631.3 269.5 632.4 270.2 633.3 271.0C634.3 271.9 635.2 272.9 636.0 273.9C636.8 275.0 637.5 276.3 638.1 277.6C638.7 278.9 639.2 280.3 639.6 281.8C640.0 283.3 640.3 284.9 640.5 286.5C640.7 288.1 640.8 289.8 640.7 291.5C640.7 293.2 640.5 295.0 640.3 296.8C640.0 298.5 639.6 300.3 639.2 302.1C638.7 303.8 638.1 305.6 637.4 307.2C636.7 308.9 635.9 310.6 635.1 312.2C634.2 313.7 633.3 315.3 632.2 316.7C631.2 318.1 630.1 319.4 629.0 320.7C627.8 321.9 626.6 323.0 625.4 324.0C624.2 325.0 622.9 325.8 621.6 326.6C620.3 327.3 618.9 327.9 617.6 328.3C616.3 328.8 615.0 329.1 613.7 329.2C612.4 329.3 611.1 329.3 609.9 329.2C608.6 329.0 607.4 328.7 606.3 328.3C605.1 327.8 604.0 327.2 603.0 326.5C602.0 325.7 601.0 324.9 600.2 323.9C599.3 322.9 598.5 321.7 597.8 320.5C597.1 319.3 596.5 317.9 596.1 316.5C595.6 315.1 595.1 312.7 594.9 312.0" style="stroke:#222;stroke-width:1.2"/>
<path class="pt" d="M627.9 272.9C628.3 273.2 629.4 274.0 630.1 274.7C630.7 275.4 631.3 276.1 631.9 277.0C632.4 277.8 632.9 278.7 633.4 279.7C633.8 280.7 634.2 281.7 634.5 282.8C634.8 283.9 635.0 285.0 635.2 286.2C635.3 287.4 635.4 288.6 635.5 289.8C635.5 291.1 635.4 292.4 635.3 293.6C635.2 294.9 635.0 296.2 634.8 297.5C634.5 298.8 634.2 300.1 633.8 301.4C633.5 302.7 633.0 303.9 632.5 305.2C632.0 306.4 631.4 307.6 630.8 308.8C630.2 309.9 629.5 311.1 628.8 312.1C628.1 313.2 627.3 314.2 626.5 315.2C625.7 316.2 624.9 317.1 624.0 317.9C623.1 318.7 622.2 319.5 621.3 320.1C620.4 320.8 619.4 321.4 618.5 321.9C617.5 322.4 616.5 322.8 615.6 323.1C614.6 323.5 613.7 323.7 612.7 323.8C611.8 324.0 610.8 324.0 609.9 324.0C609.0 323.9 608.1 323.8 607.2 323.6C606.3 323.3 605.5 323.0 604.7 322.6C603.9 322.2 603.1 321.6 602.4 321.1C601.7 320.5 601.0 319.8 600.4 319.0C599.8 318.3 599.0 317.0 598.7 316.6" />
<path class="pt" d="M640.8 276.3C641.1 276.8 641.8 278.1 642.2 279.0C642.5 280.0 642.9 281.0 643.2 282.0C643.5 283.1 643.7 284.2 643.9 285.3C644.1 286.4 644.2 287.5 644.3 288.7C644.4 289.8 644.4 291.0 644.4 292.2C644.4 293.4 644.3 294.7 644.2 295.9C644.0 297.1 643.8 298.4 643.6 299.6C643.4 300.8 643.1 302.1 642.7 303.3C642.4 304.5 642.0 305.7 641.6 306.9C641.1 308.1 640.7 309.3 640.1 310.5C639.6 311.6 639.0 312.8 638.4 313.9C637.8 315.0 637.1 316.0 636.5 317.1C635.8 318.1 635.0 319.1 634.3 320.0C633.5 320.9 632.7 321.8 631.9 322.7C631.1 323.5 630.3 324.3 629.4 325.0C628.6 325.8 627.7 326.4 626.8 327.0C625.9 327.7 625.0 328.2 624.1 328.7C623.2 329.2 622.3 329.6 621.3 329.9C620.4 330.3 619.5 330.5 618.6 330.7C617.6 330.9 616.7 331.1 615.8 331.1C614.9 331.2 614.0 331.2 613.2 331.1C612.3 331.0 611.4 330.9 610.6 330.6C609.7 330.4 608.9 330.1 608.1 329.7C607.4 329.4 606.2 328.7 605.9 328.4" />
<ellipse cx="618.6" cy="298.6" rx="8.6" ry="12" transform="rotate(20 618.6 298.6)" fill="#fff" stroke="#444" stroke-width="0.9"/>
<ellipse class="pt" cx="617.6" cy="298.2" rx="8.2" ry="11.4" transform="rotate(20 617.6 298.2)" />
<ellipse cx="620" cy="299" rx="5.6" ry="7.6" transform="rotate(20 620 299)" fill="#fff" stroke="#333" stroke-width="1"/>
<ellipse class="pt" cx="620.6" cy="299.3" rx="4.4" ry="6.2" transform="rotate(20 620.6 299.3)" />
<g transform="translate(618.8,256.7) rotate(-20)"><rect x="-5" y="-2" width="10" height="4" rx="1" fill="#fff" stroke="#222" stroke-width="0.9"/><path d="M-4 0.5H4" stroke="#555" stroke-width="0.6"/></g>
<g transform="translate(557.8,271)"><path d="M-6 -2L-2.5 -5.5L3.5 -5L6 -1L5 4L0 6L-5 4Z" fill="#f4f4f4" stroke="#222" stroke-width="1.1" stroke-linejoin="round"/><ellipse cx="1" cy="0.5" rx="2.6" ry="3.2" fill="#fff" stroke="#222" stroke-width="0.9"/><path d="M-6 -2L-5 4M-2.5 -5.5L-2 0" stroke="#333" stroke-width="0.7" fill="none"/></g>
<ellipse cx="731" cy="348" rx="19" ry="23" transform="rotate(25 731 348)" fill="#555" stroke="#111" stroke-width="1"/>
<g transform="translate(730.6,322.4) rotate(22)"><rect x="-10.0" y="-5.0" width="20" height="10" rx="2.5" fill="#fff" stroke="#111" stroke-width="1.1"/><rect x="-8.2" y="-3.5" width="16.4" height="7.0" rx="1.2" fill="#1a1a1a" stroke="#000" stroke-width="0.6"/><path d="M-7.2 -1.9H7.2M-7.2 0.7H7.2" stroke="#888" stroke-width="0.7" fill="none"/></g>
<g transform="translate(721,332.6) rotate(27)"><rect x="-13.5" y="-6.5" width="27" height="13" rx="2.5" fill="#fff" stroke="#111" stroke-width="1.1"/><rect x="-11.7" y="-5.0" width="23.4" height="10.0" rx="1.2" fill="#1a1a1a" stroke="#000" stroke-width="0.6"/><path d="M-10.7 -3.4H10.7M-10.7 -0.8H10.7M-10.7 1.8H10.7" stroke="#888" stroke-width="0.7" fill="none"/></g>
<g transform="translate(749.2,327.2) rotate(38)"><rect x="-8.5" y="-7.5" width="17" height="15" rx="2.5" fill="#fff" stroke="#111" stroke-width="1.1"/><rect x="-6.7" y="-6.0" width="13.4" height="12.0" rx="1.2" fill="#1a1a1a" stroke="#000" stroke-width="0.6"/><path d="M-5.7 -4.4H5.7M-5.7 -1.8H5.7M-5.7 0.8H5.7M-5.7 3.4H5.7" stroke="#888" stroke-width="0.7" fill="none"/></g>
<g transform="translate(709.2,351) rotate(12)"><rect x="-7.5" y="-8.5" width="15" height="17" rx="2.5" fill="#fff" stroke="#111" stroke-width="1.1"/><rect x="-5.7" y="-7.0" width="11.4" height="14.0" rx="1.2" fill="#1a1a1a" stroke="#000" stroke-width="0.6"/><path d="M-4.7 -5.4H4.7M-4.7 -2.8H4.7M-4.7 -0.2H4.7M-4.7 2.4H4.7M-4.7 5.0H4.7" stroke="#888" stroke-width="0.7" fill="none"/></g>
<g transform="translate(754,346) rotate(20)"><rect x="-6.5" y="-7.5" width="13" height="15" rx="2.5" fill="#fff" stroke="#111" stroke-width="1.1"/><rect x="-4.7" y="-6.0" width="9.4" height="12.0" rx="1.2" fill="#1a1a1a" stroke="#000" stroke-width="0.6"/><path d="M-3.7 -4.4H3.7M-3.7 -1.8H3.7M-3.7 0.8H3.7M-3.7 3.4H3.7" stroke="#888" stroke-width="0.7" fill="none"/></g>
<g transform="translate(747,365.4) rotate(30)"><rect x="-7.0" y="-6.0" width="14" height="12" rx="2.5" fill="#fff" stroke="#111" stroke-width="1.1"/><rect x="-5.2" y="-4.5" width="10.4" height="9.0" rx="1.2" fill="#1a1a1a" stroke="#000" stroke-width="0.6"/><path d="M-4.2 -2.9H4.2M-4.2 -0.3H4.2M-4.2 2.3H4.2" stroke="#888" stroke-width="0.7" fill="none"/></g>
<g transform="translate(719,368) rotate(30)"><rect x="-14" y="-8.5" width="28" height="17" rx="3" fill="#222" stroke="#000" stroke-width="1"/><path d="M-13 -6H13M-13 -2.5H13M-13 1H13M-13 4.5H13" stroke="#ddd" stroke-width="1.1" stroke-dasharray="1.2 1.8" fill="none"/></g>
<ellipse cx="738.5" cy="349.5" rx="11" ry="13.5" transform="rotate(28 738.5 349.5)" fill="#fff" stroke="#111" stroke-width="1.2"/>
<ellipse cx="739.8" cy="349.8" rx="7.2" ry="10.4" transform="rotate(28 739.8 349.8)" fill="#333" stroke="#000" stroke-width="1"/>
<path d="M735 345L744 353M734.5 349L742.5 356.5M737.5 342.5L746 350" stroke="#999" stroke-width="0.7" fill="none"/>
<circle cx="742" cy="336.5" r="1.4" fill="#111"/><circle cx="727.5" cy="358" r="1.4" fill="#111"/><circle cx="748" cy="356" r="1.3" fill="#111"/>
<path class="" d="M734.0 374.0C734.5 375.7 735.3 380.8 737.0 384.0C738.7 387.2 741.0 390.5 744.0 393.0C747.0 395.5 751.7 398.5 755.0 399.0C758.3 399.5 761.2 398.0 764.0 396.0C766.8 394.0 769.8 389.7 772.0 387.0C774.2 384.3 776.2 381.2 777.0 380.0"  fill="none" stroke="#111" stroke-width="4.4" stroke-linecap="round"/>
<path class="" d="M734.0 374.0C734.5 375.7 735.3 380.8 737.0 384.0C738.7 387.2 741.0 390.5 744.0 393.0C747.0 395.5 751.7 398.5 755.0 399.0C758.3 399.5 761.2 398.0 764.0 396.0C766.8 394.0 769.8 389.7 772.0 387.0C774.2 384.3 776.2 381.2 777.0 380.0"  fill="none" stroke="#fff" stroke-width="2.2" stroke-linecap="round"/>
<path class="" d="M783.0 371.0C784.0 369.3 786.7 364.2 789.0 361.0C791.3 357.8 793.8 354.8 797.0 352.0C800.2 349.2 804.3 346.4 808.0 344.0C811.7 341.6 817.2 338.6 819.0 337.5"  fill="none" stroke="#111" stroke-width="4.6" stroke-linecap="round"/>
<path class="" d="M783.0 371.0C784.0 369.3 786.7 364.2 789.0 361.0C791.3 357.8 793.8 354.8 797.0 352.0C800.2 349.2 804.3 346.4 808.0 344.0C811.7 341.6 817.2 338.6 819.0 337.5"  fill="none" stroke="#fff" stroke-width="2.4" stroke-linecap="round"/>
<path class="p" d="M795.5 351L798.5 355.5M815 337.5L818 341.5" style="stroke:#222"/>
<g transform="translate(780.5,375.5) rotate(-35)"><rect x="-5.5" y="-3.6" width="11" height="7.2" rx="2" fill="#fff" stroke="#111" stroke-width="1.3"/><ellipse cx="-3.4" cy="0.6" rx="1.8" ry="2.4" fill="#111"/><path d="M0 -3.6V3.6M2.5 -3.6V3.6" stroke="#333" stroke-width="0.7"/></g>
<path class="" d="M777.0 384.0C777.7 384.8 779.3 387.6 781.0 388.5C782.7 389.4 785.5 390.2 787.0 389.5C788.5 388.8 788.9 386.1 790.0 384.0C791.1 381.9 792.6 379.2 793.5 377.0C794.4 374.8 795.2 372.0 795.5 371.0"  fill="none" stroke="#222" stroke-width="1"/>
<g transform="translate(802.5,380) rotate(48)"><rect x="-12" y="-1.8" width="8" height="3.6" rx="1.5" fill="#fff" stroke="#222" stroke-width="0.9"/><rect x="-5" y="-3.3" width="16" height="6.6" rx="3.2" fill="#fff" stroke="#222" stroke-width="1"/><path d="M-9 -1.8V1.8M-7 -1.8V1.8" stroke="#333" stroke-width="0.6"/></g>
<path class="" d="M819 337.5L828 327M820 338.5L829.5 329"  fill="none" stroke="#111" stroke-width="1.1"/>
<path class="" d="M821 339L832 331.5"  fill="none" stroke="#555" stroke-width="0.9"/>
<g transform="translate(835.5,319) rotate(-28)"><rect x="-7" y="-7.5" width="14" height="15" rx="1.5" fill="#fff" stroke="#222" stroke-width="1.1"/><rect x="-5" y="-11" width="10" height="5" rx="1" fill="#fff" stroke="#333" stroke-width="0.9"/><path d="M-7 1H7M0 -7.5V1" stroke="#444" stroke-width="0.7"/></g>
<g transform="translate(838.5,329.5) rotate(-40)"><rect x="-5" y="-2.2" width="10" height="4.4" rx="2.2" fill="#fff" stroke="#333" stroke-width="0.9"/></g>
<path d="M215.0 320.9Q216.6 318.4 219.4 319.5L256.4 334.3Q259.2 335.4 261.2 337.6L266.2 343.3Q268.2 345.5 269.6 348.2L271.0 350.9Q272.4 353.6 271.1 356.3L270.3 357.9Q269.0 360.6 269.0 363.6L268.8 406.8Q268.8 409.8 270.2 412.5L271.2 414.5Q272.6 417.2 270.4 419.2L265.6 423.8Q263.4 425.8 260.7 424.5L238.8 414.3Q236.1 413.0 233.1 413.5L230.7 413.9Q227.7 414.4 225.7 412.1L206.7 390.1Q204.7 387.8 203.5 385.0L202.8 383.3Q201.6 380.5 204.3 379.1L206.9 377.7Q209.6 376.3 209.4 373.3L208.0 356.2Q207.8 353.2 208.1 350.2L209.6 335.3Q209.9 332.3 210.9 329.5L212.0 326.8Q213.0 324.0 214.6 321.5Z" fill="none" stroke="#333" stroke-width="6.2" stroke-linejoin="round"/>
<path d="M215.0 320.9Q216.6 318.4 219.4 319.5L256.4 334.3Q259.2 335.4 261.2 337.6L266.2 343.3Q268.2 345.5 269.6 348.2L271.0 350.9Q272.4 353.6 271.1 356.3L270.3 357.9Q269.0 360.6 269.0 363.6L268.8 406.8Q268.8 409.8 270.2 412.5L271.2 414.5Q272.6 417.2 270.4 419.2L265.6 423.8Q263.4 425.8 260.7 424.5L238.8 414.3Q236.1 413.0 233.1 413.5L230.7 413.9Q227.7 414.4 225.7 412.1L206.7 390.1Q204.7 387.8 203.5 385.0L202.8 383.3Q201.6 380.5 204.3 379.1L206.9 377.7Q209.6 376.3 209.4 373.3L208.0 356.2Q207.8 353.2 208.1 350.2L209.6 335.3Q209.9 332.3 210.9 329.5L212.0 326.8Q213.0 324.0 214.6 321.5Z" fill="none" stroke="#fff" stroke-width="4.2" stroke-linejoin="round"/>
<path d="M215.0 320.9Q216.6 318.4 219.4 319.5L256.4 334.3Q259.2 335.4 261.2 337.6L266.2 343.3Q268.2 345.5 269.6 348.2L271.0 350.9Q272.4 353.6 271.1 356.3L270.3 357.9Q269.0 360.6 269.0 363.6L268.8 406.8Q268.8 409.8 270.2 412.5L271.2 414.5Q272.6 417.2 270.4 419.2L265.6 423.8Q263.4 425.8 260.7 424.5L238.8 414.3Q236.1 413.0 233.1 413.5L230.7 413.9Q227.7 414.4 225.7 412.1L206.7 390.1Q204.7 387.8 203.5 385.0L202.8 383.3Q201.6 380.5 204.3 379.1L206.9 377.7Q209.6 376.3 209.4 373.3L208.0 356.2Q207.8 353.2 208.1 350.2L209.6 335.3Q209.9 332.3 210.9 329.5L212.0 326.8Q213.0 324.0 214.6 321.5Z" fill="none" stroke="#333" stroke-width="1.6" stroke-linejoin="round" transform="translate(0.9,0.7)"/>
<path d="M215.0 320.9Q216.6 318.4 219.4 319.5L256.4 334.3Q259.2 335.4 261.2 337.6L266.2 343.3Q268.2 345.5 269.6 348.2L271.0 350.9Q272.4 353.6 271.1 356.3L270.3 357.9Q269.0 360.6 269.0 363.6L268.8 406.8Q268.8 409.8 270.2 412.5L271.2 414.5Q272.6 417.2 270.4 419.2L265.6 423.8Q263.4 425.8 260.7 424.5L238.8 414.3Q236.1 413.0 233.1 413.5L230.7 413.9Q227.7 414.4 225.7 412.1L206.7 390.1Q204.7 387.8 203.5 385.0L202.8 383.3Q201.6 380.5 204.3 379.1L206.9 377.7Q209.6 376.3 209.4 373.3L208.0 356.2Q207.8 353.2 208.1 350.2L209.6 335.3Q209.9 332.3 210.9 329.5L212.0 326.8Q213.0 324.0 214.6 321.5Z" fill="none" stroke="#fff" stroke-width="0.6" stroke-linejoin="round" stroke-dasharray="3 2" transform="translate(0.9,0.7)"/>
<path class="" d="M214.0 323.5L210.8 332.5L208.8 353.2L210.6 376.8L203.0 381.0L205.8 387.8L228.0 413.2L236.2 412.0L263.2 424.6"  fill="none" stroke="#111" stroke-width="1.5" stroke-linejoin="round"/>
<path class="" d="M270.4 362V409"  fill="none" stroke="#111" stroke-width="1.2"/>
<path class="p" d="M354.0 342.7C353.3 342.7 352.0 340.9 350.0 342.7C348.0 344.5 344.1 349.3 342.0 353.3C339.9 357.3 338.5 361.8 337.3 366.7C336.1 371.6 335.2 377.6 334.7 382.7C334.2 387.8 334.4 392.7 334.4 397.3C334.4 401.9 334.7 408.2 334.8 410.4" style="stroke:#444;stroke-width:0.9"/>
<path class="p" d="M350 342.7L354 342.7L370 350.7L386 356L387.3 358.7L386.7 366" style="stroke:#444;stroke-width:0.9"/>
<path class="p" d="M352.7 343.3C352.6 344.1 352.1 346.3 352.2 348.0C352.3 349.7 352.5 351.5 353.3 353.3C354.1 355.1 355.6 357.0 357.0 358.6C358.4 360.2 361.2 362.0 362.0 362.7" style="stroke:#444;stroke-width:0.9"/>
<path class="p" d="M363.3 359.6L368.7 359.2M364.7 359.3L387.3 357.3M368.7 359.3L402 374.7" style="stroke:#444;stroke-width:0.9"/>
<ellipse cx="364.6" cy="359.4" rx="1.8" ry="0.9" fill="#666"/>
<path class="p" d="M362.0 362.7C360.8 362.9 357.2 363.1 355.0 364.0C352.8 364.9 350.4 366.6 348.7 368.0C347.0 369.4 345.9 370.9 345.0 372.5C344.1 374.1 343.6 376.5 343.3 377.3" style="stroke:#444;stroke-width:0.9"/>
<path class="pt" d="M338.5 367.0C338.8 368.5 339.7 373.8 340.5 376.0C341.3 378.2 343.0 379.3 343.5 380.0" />
<ellipse cx="380.3" cy="379.8" rx="19" ry="5.6" transform="rotate(19 380.3 379.8)" fill="#fff" stroke="#444" stroke-width="1.5"/>
<ellipse cx="380.6" cy="380.2" rx="16.6" ry="3.9" transform="rotate(19 380.6 380.2)" fill="#fff" stroke="#666" stroke-width="0.7"/>
<path class="p" d="M346 378.4L387.3 395.6M345.2 380.6L386 397.6M344.6 382.6L384.8 399.4" style="stroke:#444;stroke-width:0.9"/>
<path class="p" d="M346.0 378.4C345.4 378.7 343.3 379.1 342.5 380.0C341.7 380.9 341.2 383.3 341.0 384.0" style="stroke:#444;stroke-width:0.9"/>
<path class="" d="M341.0 384.0C341.1 385.3 341.8 389.2 341.5 392.0C341.2 394.8 340.0 398.0 339.0 401.0C338.0 404.0 336.2 408.7 335.6 410.2"  fill="none" stroke="#555" stroke-width="0.8"/>
<path class="" d="M342.4 384.3C342.5 385.6 343.1 389.2 342.8 392.0C342.4 394.8 341.2 398.0 340.1 401.0C339.0 404.0 336.9 408.7 336.3 410.2"  fill="none" stroke="#222" stroke-width="1.0"/>
<path class="" d="M343.8 384.6C343.8 385.8 344.4 389.3 344.0 392.0C343.6 394.7 342.4 398.0 341.2 401.0C340.1 404.0 337.7 408.7 337.0 410.2"  fill="none" stroke="#222" stroke-width="1.0"/>
<path class="" d="M345.2 384.8C345.2 386.0 345.8 389.3 345.3 392.0C344.8 394.7 343.6 398.0 342.4 401.0C341.1 404.0 338.5 408.7 337.7 410.2"  fill="none" stroke="#555" stroke-width="0.8"/>
<path class="p" d="M335 410.4L337.6 411.2" />
<path class="p" d="M386.7 366L390.7 368L395.3 366L402.7 370" style="stroke:#444;stroke-width:0.9"/>
<path class="p" d="M402.7 370L447.3 372.7L448 386.7L451.4 390.5L448.2 391.6" style="stroke:#444;stroke-width:0.9"/>
<path class="p" d="M402.7 370V381.3" style="stroke:#444;stroke-width:0.9"/>
<path class="p" d="M402.7 381.3C404.2 382.0 408.6 384.4 412.0 385.5C415.4 386.6 419.6 387.8 423.3 388.0C427.0 388.2 430.7 387.7 434.0 387.0C437.3 386.3 441.8 384.5 443.3 384.0" style="stroke:#444;stroke-width:0.9"/>
<path class="" d="M404.7 371.8L444.4 373.4L443.8 377.8L423.3 381.6L405 376Z"  fill="none" stroke="#444" stroke-width="1.3" stroke-linejoin="round"/>
<path class="pt" d="M406.6 373.8L441.6 375.2L423.3 379.6Z" />
<path class="p" d="M443.3 373.6V384M447.3 372.7L443.3 373.6" style="stroke:#444;stroke-width:0.9"/>
<rect x="403.2" y="371" width="2.4" height="4.4" fill="none" stroke="#444" stroke-width="0.7"/>
<path class="p" d="M446.6 388.0C446.8 389.3 447.4 393.5 447.6 396.0C447.8 398.5 448.1 399.3 448.0 403.0C447.9 406.7 447.7 413.0 447.2 418.0C446.7 423.0 445.5 430.5 445.2 433.0" style="stroke:#777;stroke-width:0.8"/>
<path class="p" d="M384.9 393.2C385.6 393.1 387.3 392.2 389.0 392.3C390.7 392.4 393.2 392.8 395.0 393.6C396.8 394.4 398.6 395.9 400.0 397.3C401.4 398.7 402.8 400.4 403.6 402.0C404.4 403.6 404.6 404.8 404.8 407.0C405.0 409.2 404.7 412.3 404.6 415.0C404.5 417.7 404.4 419.5 404.0 423.4C403.6 427.3 402.3 436.0 402.0 438.5" style="stroke:#444;stroke-width:0.9"/>
<path class="p" d="M384.9 393.2C385.4 393.8 386.9 395.7 388.0 396.8C389.1 397.9 390.4 399.2 391.7 400.0C393.0 400.8 395.0 401.1 396.0 401.8C397.0 402.5 397.6 403.2 397.9 404.2C398.2 405.1 397.7 406.5 397.6 407.5C397.5 408.5 397.3 409.9 397.2 410.4" style="stroke:#444;stroke-width:0.9"/>
<path class="pt" d="M389.5 392.6C390.1 393.2 392.3 394.8 393.0 396.0C393.7 397.2 393.5 399.2 393.6 399.8" />
<path class="p" d="M389 411.7L397.2 410.4M389 411.7L387 445.4M390.6 412L388.8 444M395.8 410.6L393.1 439.2M397.2 410.4L394.8 439" style="stroke:#444;stroke-width:0.8"/>
<path class="pt" d="M392.4 412L390.8 440" />
<path d="M391 441.2L400 438.5L406.1 441.2V450.2L398.6 452.2L391 448.8Z" fill="#fff" stroke="#444" stroke-width="0.9" stroke-linejoin="round"/>
<path class="p" d="M391 441.2L398.6 444.2L406.1 441.2M398.6 444.2V452.2" style="stroke:#444;stroke-width:0.9"/>
<circle cx="395.2" cy="446.4" r="2.3" class="p"/><circle cx="395.4" cy="446.6" r="1.1" class="pt"/>
<path class="p" d="M406.8 441.9L445.2 433M406.8 444.6L445.2 435.2M406.8 447.4L445.2 437.1M445.2 433V437.1" style="stroke:#555;stroke-width:0.8"/>
<path class="pt" d="M410.0 441.2l1.8 2.3M413.8 440.3l1.8 2.3M417.6 439.4l1.8 2.3M421.4 438.6l1.8 2.3M425.2 437.7l1.8 2.3M429.0 436.8l1.8 2.3M432.8 435.9l1.8 2.3M436.6 435.0l1.8 2.3M440.4 434.2l1.8 2.3" />
<g transform="translate(373.4,332)"><path d="M-8 0.5L-3 -3L-1 -6.5L4 -5L8 -3L6.5 -0.5L2 0L4.5 4.5L2.5 5L-0.5 1.5L-2 6L-4.5 6.5L-4.8 1L-8 1.5Z" fill="#777" stroke="#222" stroke-width="0.9" stroke-linejoin="round"/><path d="M-3 -3L1 -1L4 -5M-2 1L1 -1" stroke="#222" stroke-width="0.7" fill="none"/><ellipse cx="-1" cy="-2.4" rx="1.6" ry="1.2" fill="#ddd"/></g>
<g transform="translate(408,328.6)"><path d="M-2.6 -3.4L0 -5L2.6 -3.4L2.2 -1.4L0 -0.6L-2.2 -1.4Z" fill="#555" stroke="#111" stroke-width="0.9" stroke-linejoin="round"/><rect x="-1" y="-0.8" width="2" height="6.4" fill="#444" stroke="#111" stroke-width="0.6"/><path d="M-1 1H1M-1 2.6H1M-1 4.2H1" stroke="#ccc" stroke-width="0.5"/></g>
<g transform="translate(441.8,333.2)"><path d="M-2.6 -3.4L0 -5L2.6 -3.4L2.2 -1.4L0 -0.6L-2.2 -1.4Z" fill="#555" stroke="#111" stroke-width="0.9" stroke-linejoin="round"/><rect x="-1" y="-0.8" width="2" height="6.4" fill="#444" stroke="#111" stroke-width="0.6"/><path d="M-1 1H1M-1 2.6H1M-1 4.2H1" stroke="#ccc" stroke-width="0.5"/></g>
<path d="M402.7 339.8L404.4 338.2L410 338.6L420.7 341.3L444 344.5L444.8 346.4L439.3 351.3L422 355.3L404.7 344.9Z" fill="#fff" stroke="#555" stroke-width="0.8" stroke-linejoin="round"/>
<path class="pt" d="M404.6 341.6L422 353L439 349.2L443.4 345.6" />
<ellipse cx="424.7" cy="345.6" rx="6" ry="3.6" fill="#fff" stroke="#555" stroke-width="0.8"/><ellipse cx="424.7" cy="342.6" rx="5.4" ry="3.2" fill="#fff" stroke="#555" stroke-width="0.8"/>
<path class="pt" d="M419.3 342.6V345.6M430.1 342.6V345.6" />
<circle cx="404.2" cy="340.2" r="1.3" class="pt"/><circle cx="443.2" cy="345" r="1.3" class="pt"/><circle cx="440" cy="350.6" r="1" class="pt"/>
<g transform="translate(391,461)"><path d="M-4.4 -4.6L-1.6 -5.6L0.4 -3.4L4.4 -2.4V3.2L0 5.4L-4.6 4Z" fill="#555" stroke="#111" stroke-width="1" stroke-linejoin="round"/><path d="M-2.6 -2.4L3 -0.6L-2.6 2.6Z" fill="#eee" stroke="#111" stroke-width="0.6"/></g>
<path class="p" d="M319.2 443.7C319.8 443.2 321.6 441.5 323.0 441.0C324.4 440.5 327.1 440.8 327.9 440.8" style="stroke:#444;stroke-width:0.9"/>
<path class="p" d="M318.6 444.4C318.3 445.7 317.5 449.1 317.0 452.0C316.5 454.9 316.0 458.4 315.6 462.0C315.2 465.6 314.8 470.0 314.6 473.7C314.4 477.4 314.4 480.8 314.4 484.0C314.4 487.2 314.4 491.6 314.4 493.1" style="stroke:#444;stroke-width:0.9"/>
<path class="p" d="M327.9 440.8L327.6 455L326.9 469.8L344.4 479.6Q346.2 481 344.4 482.2L324 474.4" style="stroke:#444;stroke-width:0.9"/>
<path class="p" d="M324.0 444.7C323.9 446.9 323.5 453.2 323.2 458.0C322.9 462.8 322.3 471.1 322.1 473.7" style="stroke:#444;stroke-width:0.9"/>
<path class="pt" d="M320.8 446.0C320.4 448.3 319.1 455.3 318.6 460.0C318.1 464.7 317.8 471.7 317.6 474.0" />
<path class="pt" d="M326.9 472.2L343 481" />
<ellipse cx="317.4" cy="479.5" rx="1.7" ry="6" fill="#444" stroke="#222" stroke-width="0.7"/>
<path class="pt" d="M319.8 474V492M316 486V494" />
<path class="p" d="M314.4 493.1C313.6 493.4 310.8 493.7 309.6 494.6C308.4 495.5 307.6 496.5 307.4 498.5C307.2 500.5 307.1 504.0 308.5 506.6C309.9 509.2 313.1 511.4 316.0 514.0C318.9 516.6 323.5 519.9 326.0 522.1C328.5 524.3 329.0 526.6 330.8 527.2C332.6 527.8 333.7 525.1 336.6 525.6C339.5 526.1 344.0 528.8 348.0 530.5C352.0 532.2 356.7 533.9 360.8 535.6C364.9 537.3 369.8 538.9 372.4 540.5C375.0 542.1 375.6 544.5 376.3 545.3" style="stroke:#333;stroke-width:1"/>
<path class="p" d="M316.0 496.0C315.3 496.2 312.9 496.3 312.0 497.0C311.1 497.7 310.5 498.5 310.4 500.0C310.3 501.5 310.1 503.7 311.4 505.8C312.7 507.9 315.3 510.0 318.0 512.4C320.7 514.8 325.4 518.2 327.6 520.2C329.8 522.2 329.8 523.9 331.4 524.4C333.0 524.9 334.1 522.4 337.0 523.0C339.9 523.6 344.9 526.5 349.0 528.2C353.1 529.9 357.9 531.9 361.6 533.4C365.3 534.9 369.4 536.4 371.0 537.0" style="stroke:#333;stroke-width:0.9"/>
<path class="p" d="M318.4 497.6C317.7 497.9 315.0 498.5 314.2 499.2C313.4 499.9 313.4 501.0 313.4 502.0C313.4 503.0 313.3 503.7 314.4 505.2C315.5 506.7 317.6 508.6 320.0 510.8C322.4 513.0 326.1 516.8 329.0 518.4C331.9 520.0 333.9 519.3 337.4 520.6C340.9 521.9 345.8 524.2 350.0 526.0C354.2 527.8 359.4 529.9 362.6 531.2C365.8 532.5 367.9 533.2 369.0 533.6" style="stroke:#444;stroke-width:0.9"/>
<ellipse cx="331" cy="523.6" rx="2.6" ry="4.4" transform="rotate(-30 331 523.6)" fill="none" stroke="#333" stroke-width="0.9"/>
<path class="p" d="M324.0 477.6C323.9 479.0 323.6 483.4 323.6 486.0C323.6 488.6 323.4 491.2 324.0 493.1C324.6 495.0 325.9 496.2 327.0 497.5C328.1 498.8 330.2 499.4 330.8 500.8C331.4 502.2 330.9 504.1 330.6 506.0C330.3 507.9 329.2 511.3 328.9 512.4" style="stroke:#444;stroke-width:0.9"/>
<path class="pt" d="M316.5 493.5C317.1 494.2 318.8 496.1 320.0 498.0C321.2 499.9 323.1 503.0 323.5 505.0C323.9 507.0 322.8 509.2 322.6 510.0" />
<path class="p" d="M336.6 514.4C337.5 513.9 339.4 512.1 342.0 511.6C344.6 511.1 348.6 511.3 352.0 511.4C355.4 511.5 360.9 512.2 362.7 512.4" style="stroke:#444;stroke-width:0.9"/>
<path class="pt" d="M336.6 514.4L352 517.4L366 518.2" />
<path class="p" d="M362.7 512.4L369.5 516.3L366.6 527.9L361 525.5" style="stroke:#444;stroke-width:0.9"/>
<circle cx="375.9" cy="509.3" r="4.1" fill="#fff" stroke="#444" stroke-width="1"/><circle cx="376" cy="509.5" r="2.2" class="p"/>
<path class="p" d="M371.6 511L369.5 512.4L367.6 526L372 528.4M373.6 513.2L371.4 527" style="stroke:#444;stroke-width:0.9"/>
<path class="p" d="M379.6 511.5L382.1 513.4L384.4 512" style="stroke:#444;stroke-width:0.9"/>
<path class="" d="M382.1 513.4L426.6 500.8"  fill="none" stroke="#111" stroke-width="1.1"/>
<path class="p" d="M426.6 500.8L427.6 506.6" style="stroke:#444;stroke-width:0.9"/>
<circle cx="427" cy="515.3" r="3.3" class="p"/>
<path class="p" d="M427.6 506.6C428.3 507.0 430.8 507.8 431.6 509.0C432.4 510.2 432.8 512.5 432.6 514.0C432.4 515.5 430.8 517.5 430.4 518.2" style="stroke:#444;stroke-width:0.9"/>
<path class="pt" d="M424.0 513.0C423.5 513.9 421.7 516.4 420.8 518.2C419.9 520.0 419.6 522.1 418.6 524.0C417.6 525.9 416.5 528.2 415.0 529.8C413.5 531.4 411.4 532.7 409.5 533.8C407.6 534.9 406.3 535.6 403.4 536.6C400.5 537.6 395.9 539.0 392.0 540.0C388.1 541.0 382.8 541.5 380.2 542.4C377.6 543.3 376.9 544.8 376.3 545.3" style="stroke:#666"/>
<path class="p" d="M382.1 514.4L381.4 528L380.2 539.5L376.3 545.3" style="stroke:#444;stroke-width:0.9"/>
<path class="pt" d="M344.4 481.5L398.5 508.5" style="stroke:#555"/>
<g transform="translate(307.4,458.2)"><path d="M-3.4 -6.4L0.6 -7L3.6 -4.2L4.4 3.6L1.6 7L-2.6 6.2L-4.2 0Z" fill="#2a2a2a" stroke="#000" stroke-width="1" stroke-linejoin="round"/><path d="M-1.6 -3.6L1.8 -2.6L1.4 1L-1.8 0.4Z" fill="#bbb"/><path d="M-2 3L2 4" stroke="#bbb" stroke-width="0.7"/></g>
<g transform="translate(453.4,499.4)"><path d="M0 -0.6L2.8 -2L11 3.6L17 3.2L20.6 4.8V9.6L17.6 11L16 8.6L10.6 9L8 10.6L0.6 5.6Z" fill="#fff" stroke="#222" stroke-width="1.1" stroke-linejoin="round"/><path d="M11 3.6V9M8.4 2V10.4M2.8 -2L3.2 3.6L8 10.6" stroke="#333" stroke-width="0.8" fill="none"/><ellipse cx="4.2" cy="3" rx="1.2" ry="1.6" fill="none" stroke="#222" stroke-width="0.8"/><rect x="16.4" y="4.8" width="4" height="4.6" rx="1" fill="#fff" stroke="#111" stroke-width="1.2"/></g>
</g>

<path class="ld" d="M234.4 308V325.4"/>
<!-- LABELS -->
<g class="lb" id="labels">
<g transform="translate(334,61)"><use href="#L"/><text x="10.4" y="14">1</text></g>
<g transform="translate(394,68)"><use href="#L"/><text x="10.4" y="14">4</text></g>
<g transform="translate(233,69)"><use href="#L"/><text x="10.4" y="14">14</text></g>
<g transform="translate(233,103)"><use href="#L"/><text x="10.4" y="14">17</text></g>
<g transform="translate(233,137)"><use href="#L"/><text x="10.4" y="14">12</text></g>
<g transform="translate(225,197)"><use href="#L"/><text x="10.4" y="14">17</text></g>
<g transform="translate(501,164)"><use href="#L"/><text x="10.4" y="14">3</text></g>
<g transform="translate(549,164)"><use href="#L"/><text x="10.4" y="14">13</text></g>
<g transform="translate(601,164)"><use href="#L"/><text x="10.4" y="14">9</text></g>
<g transform="translate(658,164)"><use href="#L"/><text x="10.4" y="14">16</text></g>
<g transform="translate(728,164)"><use href="#L"/><text x="10.4" y="14">10</text></g>
<g transform="translate(432,262)"><use href="#L"/><text x="10.4" y="14">15</text></g>
<g transform="translate(225,289)"><use href="#L"/><text x="10.4" y="14">5</text></g>
<g transform="translate(299,382)"><use href="#L"/><text x="10.4" y="14">6</text></g>
<g transform="translate(477,413)"><use href="#L"/><text x="10.4" y="14">7</text></g>
<g transform="translate(189,446)"><use href="#L"/><text x="10.4" y="14">15</text></g>
<g transform="translate(790,423)"><use href="#L"/><text x="10.4" y="14">11</text></g>
<g transform="translate(498,495)"><use href="#L"/><text x="10.4" y="14">2</text></g>
<g transform="translate(486,523)"><use href="#L"/><text x="10.4" y="14">17</text></g>
</g>
</svg>
</body></html>
